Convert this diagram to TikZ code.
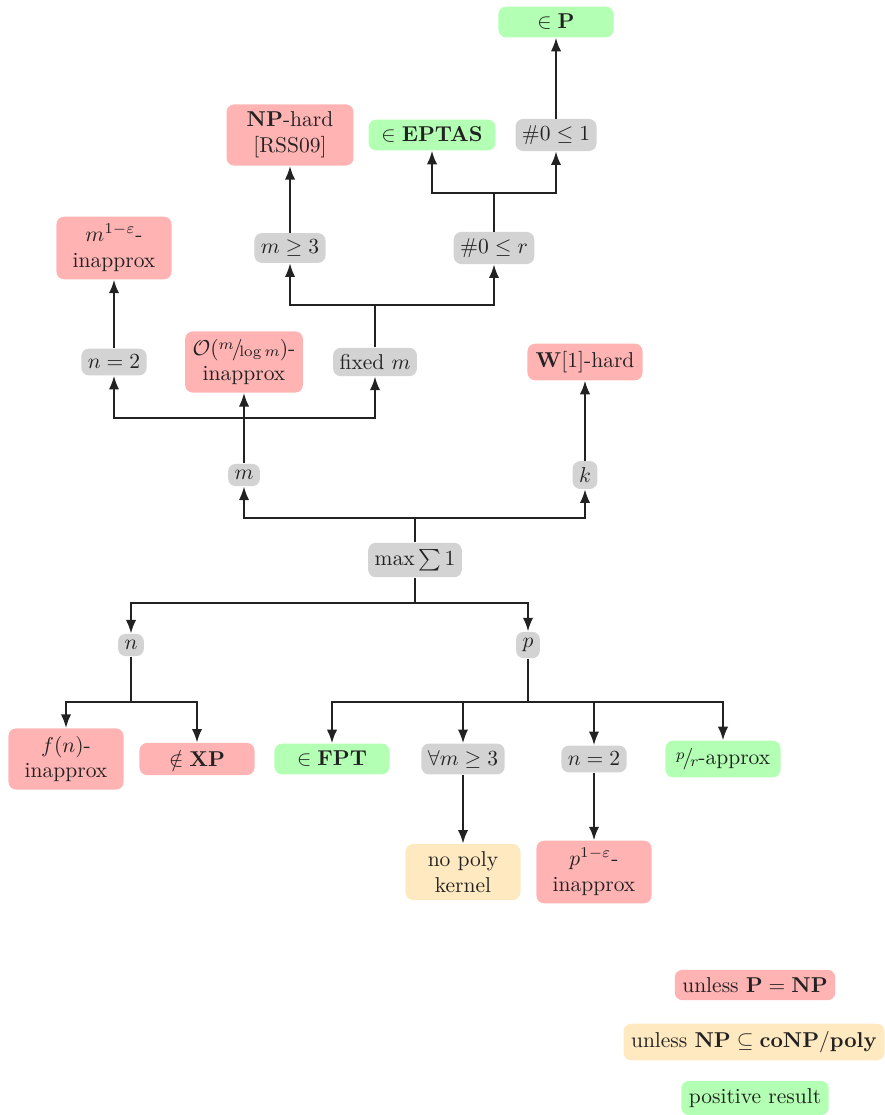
\documentclass[tikz,border=0pt]{standalone}
\usetikzlibrary{arrows.meta}
\definecolor{rdc}{HTML}{FFB3B3}
\definecolor{gnc}{HTML}{B3FFB3}
\definecolor{gyc}{HTML}{D3D3D3}
\definecolor{orc}{HTML}{FFE9C0}
\definecolor{inkc}{HTML}{222222}
\newcommand{\myfrac}[2]{\raisebox{.55ex}{$\scriptstyle #1$}\kern-.1em/\kern-.15em\raisebox{-.2ex}{$\scriptstyle #2$}}
\tikzset{
  bx/.style={rounded corners=3.5pt, text=inkc, align=center, draw=none},
  gy/.style={bx, fill=gyc, inner xsep=3pt, inner ysep=3pt},
  rd/.style={bx, fill=rdc, inner sep=3.5pt, minimum width=53.5pt},
  gn/.style={bx, fill=gnc, inner sep=3.5pt, minimum width=53.5pt},
  or/.style={bx, fill=orc, inner sep=3.5pt, minimum width=53.5pt},
  arr/.style={-{Latex[length=6.3pt,width=4.8pt]}, line width=0.9pt, draw=inkc},
}
\begin{document}
\begin{tikzpicture}[x=0.465pt,y=-0.465pt]
\useasboundingbox (0,0) rectangle (885,1115);
% nodes
\node[gn] (P) at (556,22) {$\in\mathbf{P}$};
\node[gy] (h1) at (556,135) {$\#0\le 1$};
\node[gn,minimum width=59pt] (eptas) at (432,135) {$\in\mathbf{EPTAS}$};
\node[rd,minimum width=59pt] (nph) at (290,135) {\textbf{NP}-hard\\{[RSS09]}};
\node[gy] (m3) at (290,248) {$m\ge 3$};
\node[gy] (hr) at (494,248) {$\#0\le r$};
\node[rd] (m1e) at (114,248) {$m^{1-\varepsilon}$-\\inapprox};
\node[gy] (n2a) at (114,362) {$n=2$};
\node[rd] (olog) at (244,362) {$\mathcal{O}(\myfrac{m}{\log m})$-\\inapprox};
\node[gy] (fm) at (375,362) {fixed $m$};
\node[rd] (w1) at (585,362) {$\mathbf{W}[1]$-hard};
\node[gy] (m) at (244,475) {$m$};
\node[gy] (k) at (585,475) {$k$};
\node[gy] (max) at (415,560) {$\max\sum 1$};
\node[gy] (n) at (131,645) {$n$};
\node[gy] (p) at (528,645) {$p$};
\node[rd] (fn) at (66,759) {$f(n)$-\\inapprox};
\node[rd] (xp) at (197,759) {$\notin\mathbf{XP}$};
\node[gn] (fpt) at (332,759) {$\in\mathbf{FPT}$};
\node[gy] (fa) at (463,759) {$\forall m\ge 3$};
\node[gy] (n2b) at (594,759) {$n=2$};
\node[gn] (pr) at (723,759) {$\myfrac{p}{r}$-approx};
\node[or] (npk) at (463,872) {no poly\\kernel};
\node[rd] (p1e) at (594,872) {$p^{1-\varepsilon}$-\\inapprox};
% legend
\node[rd] (l1) at (755,985) {unless $\mathbf{P}=\mathbf{NP}$};
\node[or] (l2) at (754,1042) {unless $\mathbf{NP}\subseteq\mathbf{coNP/poly}$};
\node[gn] (l3) at (755,1098) {positive result};
% connectors
\coordinate (bk) at (415,518);
\coordinate (bn) at (415,603);
\coordinate (bm) at (244,418);
\coordinate (bf) at (375,305);
\coordinate (br) at (494,193);
\coordinate (bnn) at (131,702);
\coordinate (bp) at (528,702);
\draw[arr] (max) -- (bk) -| (m);
\draw[arr] (bk) -| (k);
\draw[arr] (max) -- (bn) -| (n);
\draw[arr] (bn) -| (p);
\draw[arr] (m) -- (olog);
\draw[arr] (bm) -| (n2a);
\draw[arr] (bm) -| (fm);
\draw[arr] (n2a) -- (m1e);
\draw[arr] (fm) -- (bf) -| (m3);
\draw[arr] (bf) -| (hr);
\draw[arr] (m3) -- (nph);
\draw[arr] (hr) -- (br) -| (eptas);
\draw[arr] (br) -| (h1);
\draw[arr] (h1) -- (P);
\draw[arr] (k) -- (w1);
\draw[arr] (n) -- (bnn) -| (fn);
\draw[arr] (bnn) -| (xp);
\draw[arr] (p) -- (bp) -| (fpt);
\draw[arr] (bp) -| (fa);
\draw[arr] (bp) -| (n2b);
\draw[arr] (bp) -| (pr);
\draw[arr] (fa) -- (npk);
\draw[arr] (n2b) -- (p1e);
\end{tikzpicture}
\end{document}
